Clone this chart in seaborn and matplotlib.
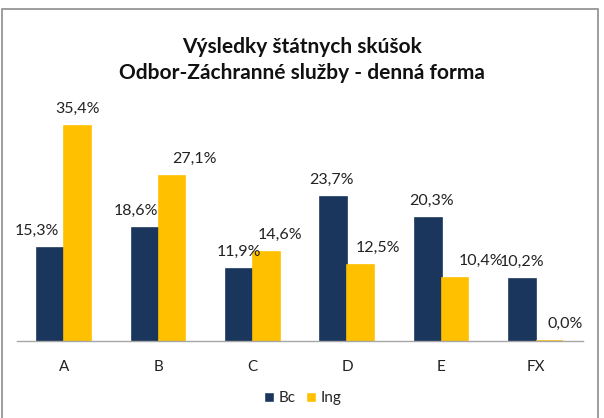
import matplotlib
matplotlib.use("Agg")
import matplotlib.pyplot as plt
import seaborn as sns
import pandas as pd
from matplotlib.patches import Rectangle

categories = ["A", "B", "C", "D", "E", "FX"]
bc_values = [15.3, 18.6, 11.9, 23.7, 20.3, 10.2]
ing_values = [35.4, 27.1, 14.6, 12.5, 10.4, 0.0]
series = ["Bc", "Ing"]
colors = {"Bc": "#1B365D", "Ing": "#FFC000"}
title_lines = ["Výsledky štátnych skúšok", "Odbor-Záchranné služby - denná forma"]

df = pd.DataFrame({
    "kat": categories * 2,
    "hodnota": bc_values + ing_values,
    "typ": ["Bc"] * len(categories) + ["Ing"] * len(categories),
})

sns.set_theme(style="white")
plt.rcParams["font.family"] = ["Lato", "DejaVu Sans"]

fig = plt.figure(figsize=(6.04, 4.18), dpi=100)
ax = fig.add_axes([17 / 604, 1 - 341 / 418, (583 - 17) / 604, (341 - 98) / 418])

sns.barplot(data=df, x="kat", y="hodnota", hue="typ", hue_order=series,
            palette=colors, width=0.57, gap=0, saturation=1, ax=ax,
            legend=False, linewidth=0)

ax.set_ylim(0, 40)
ax.set_xlim(-0.5, len(categories) - 0.5)
ax.set_xlabel("")
ax.set_ylabel("")
ax.set_yticks([])
for s in ["top", "right", "left"]:
    ax.spines[s].set_visible(False)
ax.spines["bottom"].set_color("#A6A6A6")
ax.spines["bottom"].set_linewidth(1)
ax.tick_params(axis="x", length=0, pad=14, labelsize=11, colors="#222222")

# thin outline so zero-height bar still shows as a line
for container, name in zip(ax.containers, series):
    for bar in container:
        bar.set_edgecolor(colors[name])
        bar.set_linewidth(1.2)

# data labels (manually nudged like the original)
x_off = {"Bc": [-14, -9, 0, -2, 3, 0], "Ing": [0, 23, 14, 17, 26, 16]}
for container, name in zip(ax.containers, series):
    for i, bar in enumerate(container):
        h = bar.get_height()
        xc = bar.get_x() + bar.get_width() / 2
        ax.annotate(f"{h:.1f}%".replace(".", ","), (xc, h),
                    xytext=(x_off[name][i], 17), textcoords="offset pixels",
                    ha="center", va="center", fontsize=11.5, color="#222222",
                    annotation_clip=False)

# legend
handles = [Rectangle((0, 0), 1, 1, facecolor=colors[s]) for s in series]
fig.legend(handles, series, loc="center", bbox_to_anchor=(303 / 604, 1 - 398 / 418),
           ncol=2, frameon=False, fontsize=11, handlelength=0.65, handleheight=0.65,
           handletextpad=0.3, columnspacing=0.7)

# title
fig.text(302 / 604, 1 - 47 / 418, title_lines[0], ha="center", va="center",
         fontsize=15, fontweight="bold", color="#111111")
fig.text(302 / 604, 1 - 73 / 418, title_lines[1], ha="center", va="center",
         fontsize=15, fontweight="bold", color="#111111")

# chart frame
fig.patches.append(Rectangle((1.5 / 604, -0.05), (598 - 1.5) / 604, 1 - 8.5 / 418 + 0.05,
                             transform=fig.transFigure, fill=False,
                             edgecolor="#8C8C8C", linewidth=1.2))

fig.savefig("out.png", dpi=100)
